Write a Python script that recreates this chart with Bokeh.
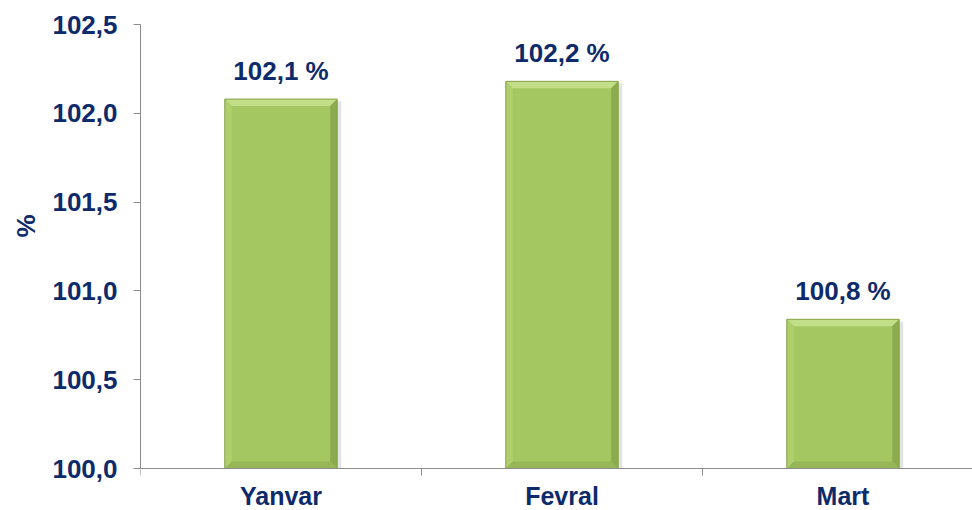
from bokeh.plotting import figure
from bokeh.models import Range1d, FixedTicker, ColumnDataSource, LabelSet, Span, Title
from bokeh.embed import file_html
from bokeh.resources import INLINE
from bokeh.core.properties import value

categories = ["Yanvar", "Fevral", "Mart"]
values = [102.08, 102.18, 100.84]
value_labels = ["102,1 %", "102,2 %", "100,8 %"]
y_ticks = [100.0, 100.5, 101.0, 101.5, 102.0, 102.5]
y_tick_labels = ["100,0", "100,5", "101,0", "101,5", "102,0", "102,5"]

BASE = 100.0
YMAX = 102.5
NAVY = "#0d2a6b"
GRAY = "#8c8c8c"
FONT = "Liberation Sans"
FS = "26px"

# pixel scale: 444 px for 2.5 units, frame extends 42 px below the base line
PX_Y = 2.5 / 444.0
PX_X = 1 / 281.0
YMIN = BASE - 42 * PX_Y

p = figure(width=972, height=510, output_backend="svg", toolbar_location=None,
           x_range=Range1d(0, 832 * PX_X), y_range=Range1d(YMIN, YMAX),
           min_border_left=140, min_border_top=24, min_border_bottom=0, min_border_right=0)
p.outline_line_color = None
p.xgrid.visible = False
p.ygrid.visible = False
p.xaxis.visible = False
p.background_fill_color = "white"

xs = [i + 0.5 for i in range(len(categories))]
hw = 0.2
bx = 7 * PX_X
by = 7 * PX_Y
sx = 4 * PX_X

# shadow
p.quad(left=[x + hw for x in xs], right=[x + hw + sx for x in xs], bottom=[BASE] * 3,
       top=[v - by * 0.3 for v in values], fill_color="#808080", fill_alpha=0.22, line_color=None)

src = ColumnDataSource(dict(x=xs, top=values, lab=value_labels, base=[BASE] * 3, cat=categories))
p.vbar(x="x", top="top", bottom=BASE, width=2 * hw, source=src,
       fill_color="#a4c762", line_color=None)

top_xs, top_ys, left_xs, left_ys, right_xs, right_ys, bot_xs, bot_ys = [], [], [], [], [], [], [], []
for x, v in zip(xs, values):
    l, r = x - hw, x + hw
    top_xs.append([l, r, r - bx, l + bx]); top_ys.append([v, v, v - by, v - by])
    left_xs.append([l, l, l + bx, l + bx]); left_ys.append([BASE, v, v - by, BASE + by])
    right_xs.append([r, r, r - bx, r - bx]); right_ys.append([BASE, v, v - by, BASE + by])
    bot_xs.append([l, r, r - bx, l + bx]); bot_ys.append([BASE, BASE, BASE + by, BASE + by])
p.patches(top_xs, top_ys, fill_color="#c2de88", line_color=None)
p.patches(left_xs, left_ys, fill_color="#afcf6d", line_color=None)
p.patches(right_xs, right_ys, fill_color="#8cab4e", line_color=None)
p.patches(bot_xs, bot_ys, fill_color="#96b658", line_color=None)
p.vbar(x=xs, top=values, bottom=BASE, width=2 * hw, fill_color=None, line_color="#86a24a", line_width=1)

# category axis: base line, boundary ticks, labels
p.add_layout(Span(location=BASE, dimension="width", line_color=GRAY, line_width=1))
bounds = list(range(len(categories) + 1))
p.segment(x0=bounds, y0=[BASE] * len(bounds), x1=bounds, y1=[BASE - 7 * PX_Y] * len(bounds),
          line_color=GRAY, line_width=1)
p.text(x="x", y="base", text="cat", source=src, y_offset=27, text_align="center",
       text_baseline="middle", text_font=value(FONT), text_font_style="bold",
       text_font_size=value("25px"), text_color=NAVY)

labels = LabelSet(x="x", y="top", text="lab", source=src, y_offset=13, text_align="center",
                  text_baseline="bottom", text_font=value(FONT), text_font_style="bold",
                  text_font_size=value(FS), text_color=NAVY)
p.add_layout(labels)

ya = p.yaxis[0]
ya.bounds = (BASE, YMAX)
ya.ticker = FixedTicker(ticks=y_ticks)
ya.major_label_overrides = {t: s for t, s in zip(y_ticks, y_tick_labels)}
ya.major_tick_out = 7
ya.major_tick_in = 0
ya.minor_tick_out = 0
ya.minor_tick_in = 0
ya.axis_line_color = GRAY
ya.major_tick_line_color = GRAY
ya.major_label_standoff = 16
ya.major_label_text_font = FONT
ya.major_label_text_font_style = "bold"
ya.major_label_text_font_size = FS
ya.major_label_text_color = NAVY

ytitle = Title(text="%", align="right", offset=190, text_font=FONT, text_font_style="bold",
               text_font_size=FS, text_color=NAVY, standoff=17)
p.add_layout(ytitle, "left")

open("out.html", "w").write(file_html(p, INLINE))
